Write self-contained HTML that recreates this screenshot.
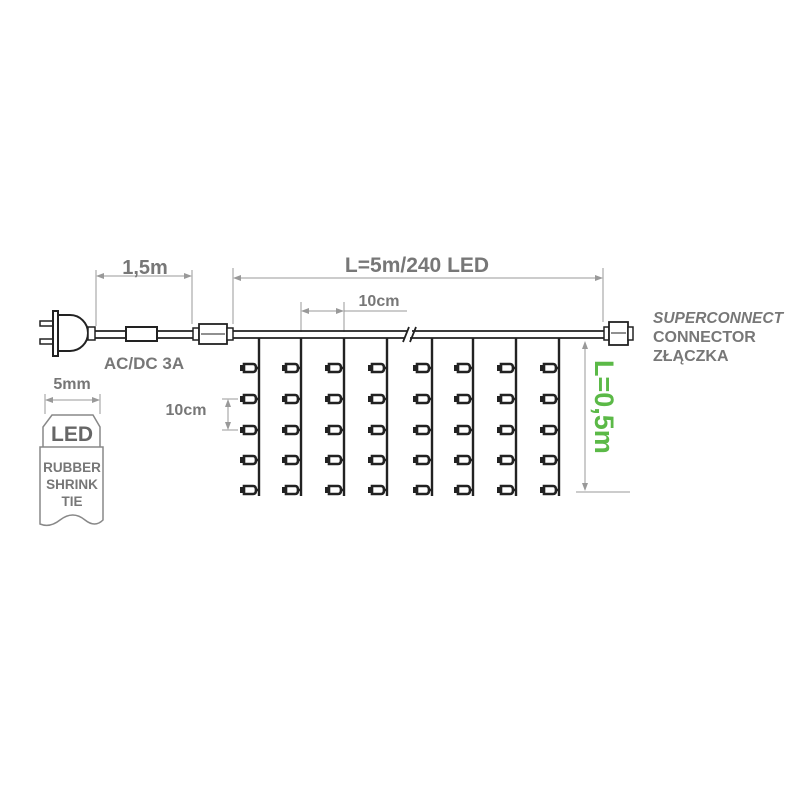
<!DOCTYPE html>
<html><head><meta charset="utf-8"><style>
html,body{margin:0;padding:0;background:#fff;width:800px;height:800px;overflow:hidden}
svg{display:block}
text{font-family:"Liberation Sans",sans-serif;font-weight:bold}
</style></head><body>
<svg width="800" height="800" viewBox="0 0 800 800" xmlns="http://www.w3.org/2000/svg">
<defs>
<marker id="a" markerWidth="8" markerHeight="6" refX="7" refY="3" orient="auto-start-reverse"><path d="M0,0L8,3L0,6z" fill="#999"/></marker>
<g id="led"><path d="M-14,-4 h9 q3,0 3,4 q0,4 -3,4 h-9 z" fill="#fff" stroke="#222" stroke-width="2.6"/><rect x="-18" y="-3" width="5" height="6" fill="#222"/><line x1="-2" y1="0" x2="0" y2="0" stroke="#222" stroke-width="2.5"/></g>
</defs>
<g stroke="#999" stroke-width="1" fill="none">
<line x1="96" y1="270" x2="96" y2="326"/><line x1="192" y1="270" x2="192" y2="324"/>
<line x1="97" y1="276" x2="191" y2="276" marker-start="url(#a)" marker-end="url(#a)"/>
<line x1="233" y1="268" x2="233" y2="324"/><line x1="603" y1="268" x2="603" y2="322"/>
<line x1="234" y1="278" x2="602" y2="278" marker-start="url(#a)" marker-end="url(#a)"/>
<line x1="301" y1="302" x2="301" y2="332"/><line x1="344" y1="302" x2="344" y2="332"/>
<line x1="302" y1="311" x2="343" y2="311" marker-start="url(#a)" marker-end="url(#a)"/>
<line x1="344" y1="311" x2="407" y2="311"/>
<line x1="222" y1="399" x2="238" y2="399"/><line x1="222" y1="430" x2="238" y2="430"/>
<line x1="228" y1="400" x2="228" y2="429" marker-start="url(#a)" marker-end="url(#a)"/>
<line x1="585" y1="342" x2="585" y2="490" marker-start="url(#a)" marker-end="url(#a)"/>
<line x1="576" y1="492" x2="630" y2="492"/>
<line x1="45" y1="394" x2="45" y2="414"/><line x1="100" y1="394" x2="100" y2="414"/>
<line x1="46" y1="400" x2="99" y2="400" marker-start="url(#a)" marker-end="url(#a)"/>
</g>
<g stroke="#222" stroke-width="2" fill="#fff">
<rect x="40" y="321" width="13" height="5" stroke-width="1.5"/>
<rect x="40" y="339" width="13" height="5" stroke-width="1.5"/>
<rect x="53" y="311" width="5" height="45"/>
<path d="M58,315 h12 a18,18 0 0 1 0,36 h-12 z"/>
<rect x="88" y="327" width="7" height="13" stroke-width="1.5"/>
<path d="M95,331 H407 M95,338 H405 M412,331 H606 M410,338 H606" fill="none" stroke-width="1.8"/>
<path d="M403,342 L409,327 M410,342 L416,327" fill="none" stroke-width="1.8"/>
<rect x="126" y="327" width="31" height="14"/>
<rect x="193" y="328" width="6" height="12" stroke-width="1.5"/>
<rect x="199" y="324" width="28" height="20" stroke-width="1.8"/>
<rect x="227" y="328" width="6" height="12" stroke-width="1.5"/>
<line x1="201" y1="334" x2="225" y2="334" stroke-width="1"/>
<rect x="604" y="327" width="5" height="13" stroke-width="1.5"/>
<rect x="609" y="322" width="19" height="23" stroke-width="1.8"/>
<rect x="628" y="327" width="5" height="13" stroke-width="1.5"/>
<line x1="611" y1="333" x2="626" y2="333" stroke-width="1"/>
</g>
<g stroke="#222" stroke-width="2.4">
<line x1="259" y1="338" x2="259" y2="496"/><line x1="301" y1="338" x2="301" y2="496"/>
<line x1="344" y1="338" x2="344" y2="496"/><line x1="387" y1="338" x2="387" y2="496"/>
<line x1="432" y1="338" x2="432" y2="496"/><line x1="473" y1="338" x2="473" y2="496"/>
<line x1="516" y1="338" x2="516" y2="496"/><line x1="559" y1="338" x2="559" y2="496"/>
</g>
<g id="col">
<use href="#led" x="258" y="368"/><use href="#led" x="258" y="399"/><use href="#led" x="258" y="430"/><use href="#led" x="258" y="460"/><use href="#led" x="258" y="490"/>
</g>
<use href="#col" x="42"/><use href="#col" x="85"/><use href="#col" x="128"/><use href="#col" x="173"/><use href="#col" x="214"/><use href="#col" x="257"/><use href="#col" x="300"/>
<g stroke="#888" stroke-width="1.5" fill="#fff">
<path d="M43,447 V427 L52,415 H93 L100,427 V447"/>
<path d="M40,447 H103 V520 q-8,8 -18,0 q-12,-10 -25,0 q-10,8 -20,4 z"/>
</g>
<g fill="#777">
<text x="145" y="274" font-size="20" text-anchor="middle">1,5m</text>
<text x="417" y="272" font-size="21" text-anchor="middle">L=5m/240 LED</text>
<text x="379" y="306" font-size="16" text-anchor="middle">10cm</text>
<text x="144" y="369" font-size="17" text-anchor="middle">AC/DC 3A</text>
<text x="186" y="415" font-size="16" text-anchor="middle">10cm</text>
<text x="72" y="389" font-size="16" text-anchor="middle">5mm</text>
<text x="72" y="441" font-size="21" text-anchor="middle" fill="#666">LED</text>
<text x="72" y="472" font-size="13.5" text-anchor="middle">RUBBER</text>
<text x="72" y="489" font-size="13.5" text-anchor="middle">SHRINK</text>
<text x="72" y="506" font-size="13.5" text-anchor="middle">TIE</text>
<text x="653" y="323" font-size="15.5" font-style="italic">SUPERCONNECT</text>
<text x="653" y="342" font-size="16">CONNECTOR</text>
<text x="653" y="361" font-size="16">ZŁĄCZKA</text>
</g>
<text transform="translate(595,360) rotate(90)" font-size="27" fill="#5bb947">L=0,5m</text>
</svg>
</body></html>
